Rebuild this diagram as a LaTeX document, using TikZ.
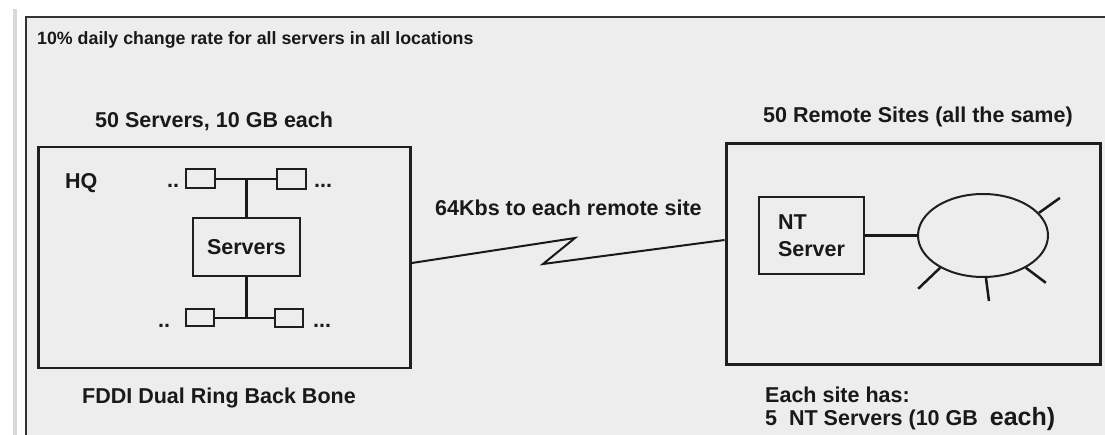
\documentclass[tikz,border=0pt]{standalone}
\usepackage{fontspec}
\setmainfont{Liberation Sans}
\usetikzlibrary{shapes.geometric}
\begin{document}
\begin{tikzpicture}[x=1pt, y=-1pt, font=\bfseries\fontsize{21.5}{27}\selectfont, text=black!90,
  box/.style={draw=black!88, line width=2pt, inner sep=0pt},
  lbl/.style={anchor=base west, inner sep=0pt},
  wire/.style={draw=black!90, line width=2.5pt}]
\useasboundingbox (0,0) rectangle (1105,435);
\fill[black!15] (13,9) rectangle (16.5,435);
\draw[fill=black!7, draw=black!80, line width=2pt] (26,17) rectangle (1120,450);
\node[lbl, font=\bfseries\fontsize{17.8}{20}\selectfont] (title) at (37,45) {10\% daily change rate for all servers in all locations};
\node[lbl] (hqcap) at (95,128) {50 Servers, 10 GB each};
\node[box, line width=2.6pt, minimum width=372pt, minimum height=221pt] (hq) at (224.5,257.5) {};
\node[lbl] (hqlbl) at (65,189) {HQ};
\node[box, minimum width=29pt, minimum height=19pt] (tl) at (200.5,179) {};
\node[box, minimum width=29pt, minimum height=20pt] (tr) at (291.5,179) {};
\node[box, line width=2.2pt, minimum width=107pt, minimum height=58pt] (srv) at (246.5,247) {Servers};
\node[box, minimum width=28pt, minimum height=17pt] (bl) at (200,318) {};
\node[box, minimum width=28pt, minimum height=18pt] (br) at (289,318) {};
\node[lbl] (tldots) at (167,188) {..};
\node[lbl] (trdots) at (314,188) {...};
\node[lbl] (bldots) at (158,327) {..};
\node[lbl] (brdots) at (313,327) {...};
\draw[wire, line width=2pt] (tl) -- (tr);
\draw[wire] (srv.north) -- (srv.north |- tl.east);
\draw[wire] (srv.south) -- (srv.south |- bl.east);
\draw[wire, line width=1.5pt] (bl) -- (br);
\node[lbl] (fddi) at (82,403) {FDDI Dual Ring Back Bone};
\node[lbl] (sitecap) at (763,123) {50 Remote Sites (all the same)};
\node[box, line width=3pt, minimum width=374pt, minimum height=220pt] (site) at (913,254) {};
\node[box, line width=2.2pt, minimum width=105pt, minimum height=77pt, align=left] (nt) at (811.5,235.5) {NT\\Server};
\node[box, ellipse, minimum width=130pt, minimum height=83pt] (lan) at (983,235.5) {};
\draw[wire] (nt) -- (lan);
\foreach \a/\dx/\dy in {22/21/-15, 217/-22/21, 274/3/23, 323/20/15} \draw[wire] (lan.\a) -- ++(\dx,\dy);
\coordinate (zigtop) at (575,238);
\coordinate (zigbot) at (543,264);
\draw[wire, line width=2pt] ([yshift=-5.5pt]hq.east) -- (zigtop) -- (zigbot) -- ([yshift=14pt]site.west);
\node[lbl] (linklbl) at (435,216) {64Kbs to each remote site};
\node[lbl] (has) at (765,402) {Each site has:};
\node[lbl] (five) at (765,425) {5\ \ NT Servers (10 GB\ \ {\fontsize{25}{25}\selectfont each)}};
\end{tikzpicture}
\end{document}
